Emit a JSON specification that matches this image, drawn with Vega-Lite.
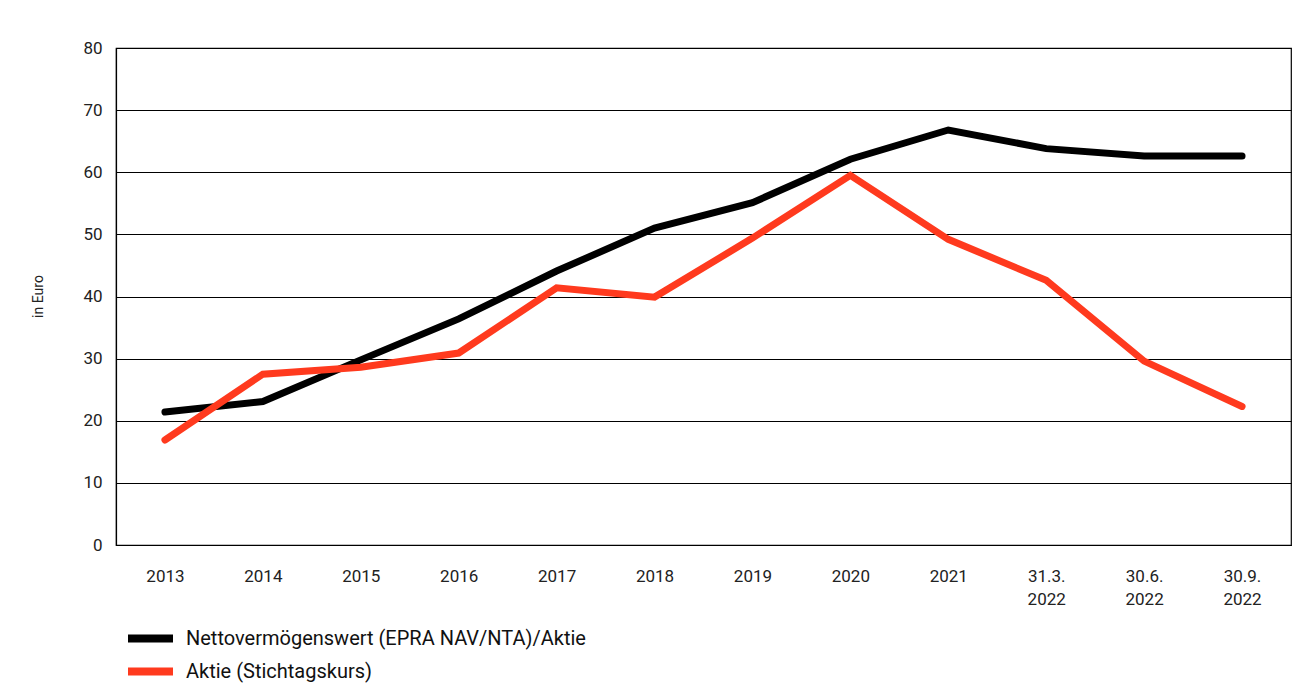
{
  "$schema": "https://vega.github.io/schema/vega-lite/v6.json",
  "width": 1175,
  "height": 497,
  "autosize": {"type": "none"},
  "padding": {"left": 116, "top": 48, "right": 21, "bottom": 152},
  "background": "white",
  "config": {
    "font": "Roboto",
    "view": {"stroke": "black", "strokeWidth": 1.2},
    "axis": {"labelColor": "#222", "labelFont": "Roboto", "titleFont": "Roboto"}
  },
  "data": {
    "values": [
      {"t": "2013", "s": "Nettovermögenswert (EPRA NAV/NTA)/Aktie", "v": 21.4},
      {"t": "2014", "s": "Nettovermögenswert (EPRA NAV/NTA)/Aktie", "v": 23.1},
      {"t": "2015", "s": "Nettovermögenswert (EPRA NAV/NTA)/Aktie", "v": 29.8},
      {"t": "2016", "s": "Nettovermögenswert (EPRA NAV/NTA)/Aktie", "v": 36.4},
      {"t": "2017", "s": "Nettovermögenswert (EPRA NAV/NTA)/Aktie", "v": 44.1},
      {"t": "2018", "s": "Nettovermögenswert (EPRA NAV/NTA)/Aktie", "v": 51.0},
      {"t": "2019", "s": "Nettovermögenswert (EPRA NAV/NTA)/Aktie", "v": 55.1},
      {"t": "2020", "s": "Nettovermögenswert (EPRA NAV/NTA)/Aktie", "v": 62.1},
      {"t": "2021", "s": "Nettovermögenswert (EPRA NAV/NTA)/Aktie", "v": 66.8},
      {"t": "31.3.|2022", "s": "Nettovermögenswert (EPRA NAV/NTA)/Aktie", "v": 63.8},
      {"t": "30.6.|2022", "s": "Nettovermögenswert (EPRA NAV/NTA)/Aktie", "v": 62.6},
      {"t": "30.9.|2022", "s": "Nettovermögenswert (EPRA NAV/NTA)/Aktie", "v": 62.6},
      {"t": "2013", "s": "Aktie (Stichtagskurs)", "v": 16.9},
      {"t": "2014", "s": "Aktie (Stichtagskurs)", "v": 27.5},
      {"t": "2015", "s": "Aktie (Stichtagskurs)", "v": 28.6},
      {"t": "2016", "s": "Aktie (Stichtagskurs)", "v": 30.9},
      {"t": "2017", "s": "Aktie (Stichtagskurs)", "v": 41.4},
      {"t": "2018", "s": "Aktie (Stichtagskurs)", "v": 39.9},
      {"t": "2019", "s": "Aktie (Stichtagskurs)", "v": 49.4},
      {"t": "2020", "s": "Aktie (Stichtagskurs)", "v": 59.5},
      {"t": "2021", "s": "Aktie (Stichtagskurs)", "v": 49.2},
      {"t": "31.3.|2022", "s": "Aktie (Stichtagskurs)", "v": 42.6},
      {"t": "30.6.|2022", "s": "Aktie (Stichtagskurs)", "v": 29.6},
      {"t": "30.9.|2022", "s": "Aktie (Stichtagskurs)", "v": 22.3}
    ]
  },
  "mark": {"type": "line", "strokeWidth": 7, "strokeCap": "round", "strokeJoin": "miter"},
  "encoding": {
    "x": {
      "field": "t",
      "type": "ordinal",
      "sort": null,
      "scale": {"type": "point", "padding": 0.5},
      "axis": {
        "title": null,
        "labelAngle": 0,
        "labelExpr": "split(datum.label, '|')",
        "labelFontSize": 17,
        "labelLineHeight": 23,
        "labelPadding": 23,
        "labelBaseline": "top",
        "ticks": false,
        "domainColor": "black",
        "domainWidth": 1.2,
        "grid": false
      }
    },
    "y": {
      "field": "v",
      "type": "quantitative",
      "scale": {"domain": [0, 80]},
      "axis": {
        "title": "in Euro",
        "titleFontSize": 14,
        "titleFontWeight": "normal",
        "titleColor": "#222",
        "titleX": -78,
        "titleY": 248,
        "titleAngle": -90,
        "titleAlign": "center",
        "titleBaseline": "middle",
        "values": [0, 10, 20, 30, 40, 50, 60, 70, 80],
        "labelFontSize": 17,
        "labelPadding": 14,
        "ticks": false,
        "domainColor": "black",
        "domainWidth": 1.2,
        "gridColor": "black",
        "gridWidth": 1.2,
        "gridOpacity": 1
      }
    },
    "color": {
      "field": "s",
      "type": "nominal",
      "scale": {
        "domain": ["Nettovermögenswert (EPRA NAV/NTA)/Aktie", "Aktie (Stichtagskurs)"],
        "range": ["#000000", "#ff3a1e"]
      },
      "legend": {
        "title": null,
        "orient": "none",
        "legendX": 18,
        "legendY": 574,
        "symbolType": "M-1.8,0H1.8",
        "symbolSize": 625,
        "symbolStrokeWidth": 8,
        "labelFontSize": 20,
        "labelColor": "#111",
        "labelOffset": 19,
        "rowPadding": 0,
        "labelLimit": 600
      }
    },
    "order": {"field": "s", "sort": "descending"}
  }
}
